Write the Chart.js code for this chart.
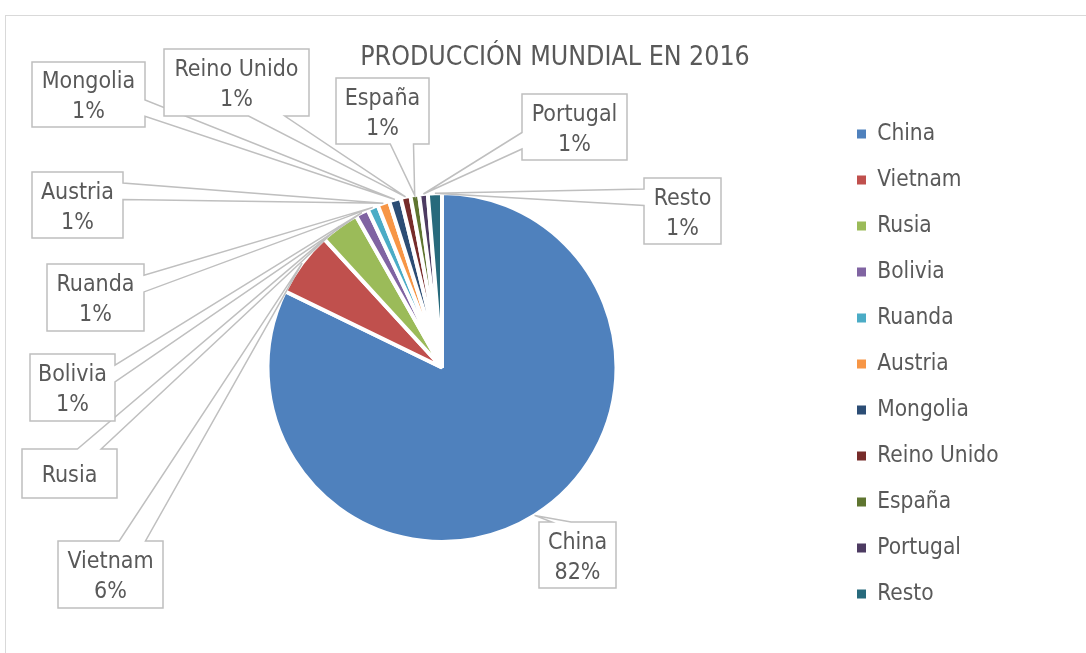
<!DOCTYPE html>
<html>
<head>
<meta charset="utf-8">
<script src="https://cdn.jsdelivr.net/npm/chart.js@4.4.0/dist/chart.umd.min.js"></script>
<style>
  html, body { margin: 0; padding: 0; background: #fff; overflow: hidden; }
  .marco { position: absolute; left: 5px; top: 15px; width: 1200px; height: 800px; border: 1px solid #d9d9d9; }
  .grafico { position: absolute; left: 0; top: 0; width: 1086px; height: 653px; }
</style>
</head>
<body>
<div class="marco"></div>
<div class="grafico"><canvas id="produccion"></canvas></div>
<script>
const paises = ['China', 'Vietnam', 'Rusia', 'Bolivia', 'Ruanda', 'Austria', 'Mongolia', 'Reino Unido', 'España', 'Portugal', 'Resto'];
const produccion = [82.2, 6.0, 3.6, 1.2, 1.0, 1.1, 1.1, 0.9, 0.8, 0.8, 1.3];
const colores = ['#4f81bd', '#c0504d', '#9bbb59', '#8064a2', '#4bacc6', '#f79646', '#2c4d75', '#772c2a', '#5f7530', '#4d3b62', '#276a7c'];
const sinPorcentaje = ['Rusia'];

// cajas de las etiquetas: x, y, ancho, alto (en el mismo orden que paises)
const cajas = [
  [539, 522, 77, 66],
  [58, 541, 105, 67],
  [22, 449, 95, 49],
  [30, 354, 85, 67],
  [47, 264, 97, 67],
  [32, 172, 91, 66],
  [32, 62, 113, 65],
  [164, 49, 145, 67],
  [336, 78, 93, 66],
  [522, 94, 105, 66],
  [644, 178, 77, 66]
];

const fuente = '"DejaVu Sans Condensed", "DejaVu Sans"';
const gris = '#595959';

// caja con pico (como los "callout" de Excel)
function dibujarCallout(ctx, x, y, w, h, tx, ty) {
  const dx = tx - (x + w / 2);
  const dy = ty - (y + h / 2);
  const vertical = Math.abs(dy) > Math.abs(dx * h / w);
  let pts;
  if (vertical) {
    const a = x + w * (dx > 0 ? 7 : 2) / 12;
    const b = x + w * (dx > 0 ? 10 : 5) / 12;
    if (dy < 0) {
      pts = [[x, y], [a, y], [tx, ty], [b, y], [x + w, y], [x + w, y + h], [x, y + h]];
    } else {
      pts = [[x, y], [x + w, y], [x + w, y + h], [b, y + h], [tx, ty], [a, y + h], [x, y + h]];
    }
  } else {
    const a = y + h * (dy > 0 ? 7 : 2) / 12;
    const b = y + h * (dy > 0 ? 10 : 5) / 12;
    if (dx > 0) {
      pts = [[x, y], [x + w, y], [x + w, a], [tx, ty], [x + w, b], [x + w, y + h], [x, y + h]];
    } else {
      pts = [[x, y], [x + w, y], [x + w, y + h], [x, y + h], [x, b], [tx, ty], [x, a]];
    }
  }
  ctx.beginPath();
  pts.forEach((p, k) => k === 0 ? ctx.moveTo(p[0], p[1]) : ctx.lineTo(p[0], p[1]));
  ctx.closePath();
  ctx.fillStyle = '#ffffff';
  ctx.fill();
  ctx.strokeStyle = '#bfbfbf';
  ctx.lineWidth = 1.5;
  ctx.stroke();
}

const etiquetas = {
  id: 'etiquetas',
  afterDatasetsDraw(chart) {
    const ctx = chart.ctx;
    const meta = chart.getDatasetMeta(0);
    const total = produccion.reduce((a, b) => a + b, 0);
    ctx.save();
    meta.data.forEach((arc, i) => {
      const { x, y, startAngle, endAngle, outerRadius } = arc.getProps(['x', 'y', 'startAngle', 'endAngle', 'outerRadius'], true);
      const medio = (startAngle + endAngle) / 2;
      const px = x + Math.cos(medio) * outerRadius;
      const py = y + Math.sin(medio) * outerRadius;
      const [bx, by, bw, bh] = cajas[i];
      dibujarCallout(ctx, bx, by, bw, bh, px, py);

      const lineas = [paises[i]];
      if (!sinPorcentaje.includes(paises[i])) {
        lineas.push(Math.round(produccion[i] / total * 100) + '%');
      }
      ctx.fillStyle = gris;
      ctx.font = '23px ' + fuente;
      ctx.textAlign = 'center';
      ctx.textBaseline = 'middle';
      lineas.forEach((t, k) => {
        ctx.fillText(t, bx + bw / 2, by + bh / 2 + 3 + (k - (lineas.length - 1) / 2) * 30);
      });
    });
    ctx.restore();
  }
};

// la leyenda ocupa mas ancho para dejar el grafico a la izquierda
const anchoLeyenda = {
  id: 'anchoLeyenda',
  beforeInit(chart) {
    const fitOriginal = chart.legend.fit;
    chart.legend.fit = function () {
      fitOriginal.call(this);
      this.width = 226;
    };
  }
};

new Chart(document.getElementById('produccion'), {
  type: 'pie',
  data: {
    labels: paises,
    datasets: [{
      data: produccion,
      backgroundColor: colores,
      borderColor: '#ffffff',
      borderWidth: 4,
      hoverOffset: 0,
      radius: 174.5
    }]
  },
  options: {
    responsive: true,
    maintainAspectRatio: false,
    animation: false,
    layout: { padding: { left: 50.5, right: 26.5, top: 0, bottom: 17.25 } },
    plugins: {
      title: {
        display: true,
        text: 'PRODUCCIÓN MUNDIAL EN 2016',
        color: gris,
        font: { family: fuente, size: 26.5, weight: 'normal' },
        padding: { top: 42, bottom: 25.45 }
      },
      legend: {
        position: 'right',
        align: 'start',
        fullSize: false,
        labels: {
          boxWidth: 9,
          boxHeight: 9,
          padding: 23.5,
          color: gris,
          font: { family: fuente, size: 22.5 },
          generateLabels: chart => Chart.overrides.pie.plugins.legend.labels.generateLabels(chart)
            .map(item => Object.assign(item, { lineWidth: 0 }))
        }
      },
      tooltip: { enabled: false }
    }
  },
  plugins: [anchoLeyenda, etiquetas]
});
</script>
</body>
</html>
